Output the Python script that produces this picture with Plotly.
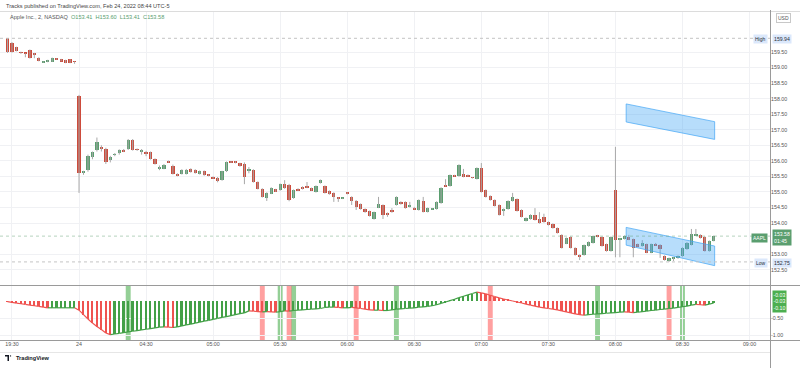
import plotly.graph_objects as go

# ---------------- data ----------------
OPEN = [159.94,159.80,159.65,159.50,159.45,159.55,159.42,159.31,159.17,159.18,159.19,159.29,159.27,159.24,159.26,159.19,
        158.09,155.61,155.71,156.13,156.35,156.45,156.38,156.03,156.19,156.24,156.35,156.38,156.67,156.38,156.27,156.28,
        156.28,156.06,155.75,155.75,155.99,155.85,155.58,155.58,155.58,155.74,155.71,155.58,155.67,155.55,155.48,155.46,
        155.38,155.66,155.97,155.97,155.92,155.90,155.69,155.71,155.32,155.10,154.81,154.95,155.08,155.06,155.25,155.22,
        154.81,155.10,155.16,155.19,155.12,155.00,155.29,155.19,155.03,154.97,154.81,154.79,154.97,154.84,154.72,154.61,
        154.45,154.38,154.13,154.50,154.58,154.32,154.42,154.58,154.68,154.68,154.52,154.50,154.42,154.71,154.36,154.45,
        154.45,154.64,155.22,155.19,155.53,155.51,155.58,155.54,155.46,155.42,155.77,155.06,154.87,154.74,154.58,154.39,
        154.45,154.71,154.77,154.42,154.07,154.13,154.26,154.13,154.20,154.03,153.97,153.84,153.62,153.34,153.55,153.20,
        152.97,152.97,153.26,153.36,153.58,153.55,153.32,153.10,155.06,153.47,153.49,153.56,153.48,153.32,153.26,153.32,
        153.05,153.34,153.30,152.94,152.81,152.86,152.87,152.94,153.16,153.30,153.60,153.62,153.55,153.10,153.41]
HIGH = [159.94,159.82,159.67,159.51,159.46,159.58,159.47,159.33,159.20,159.25,159.32,159.30,159.28,159.25,159.27,159.20,
        158.12,155.68,156.20,156.30,156.75,156.50,156.42,156.16,156.25,156.37,156.38,156.70,156.70,156.40,156.38,156.32,
        156.30,156.08,155.85,155.90,156.01,155.88,155.60,155.73,155.74,155.76,155.73,155.69,155.69,155.57,155.50,155.48,
        155.68,155.98,155.99,155.99,155.94,155.95,155.80,155.73,155.34,155.12,154.99,155.15,155.10,155.27,155.38,155.26,
        155.08,155.12,155.18,155.32,155.14,155.21,155.40,155.21,155.05,154.99,154.83,154.82,154.99,154.86,154.74,154.63,
        154.47,154.40,154.37,154.84,154.60,154.34,154.48,154.86,154.70,154.70,154.68,154.52,154.76,154.84,154.50,154.48,
        154.70,155.15,155.41,155.56,155.55,155.89,155.74,155.56,155.48,155.79,155.93,155.08,154.89,154.76,154.60,154.47,
        154.73,154.97,154.79,154.44,154.18,154.28,154.48,154.35,154.30,154.05,153.99,153.86,153.64,153.54,153.57,153.22,
        152.99,153.31,153.41,153.60,153.62,153.57,153.34,153.57,156.45,153.52,153.60,153.62,153.50,153.34,153.45,153.34,
        153.34,153.36,153.32,152.96,152.89,152.90,152.96,153.22,153.39,153.81,153.81,153.64,153.57,153.44,153.60]
LOW = [159.47,159.48,159.52,159.44,159.33,159.29,159.30,159.20,159.15,159.17,159.18,159.25,159.20,159.14,159.14,159.12,
       154.97,155.55,155.65,156.05,156.30,156.30,155.90,155.95,156.15,156.20,156.28,156.35,156.33,156.32,156.20,156.15,
       156.04,155.88,155.70,155.73,155.94,155.56,155.50,155.56,155.56,155.62,155.59,155.56,155.52,155.50,155.42,155.31,
       155.36,155.64,155.93,155.92,155.81,155.25,155.60,155.30,155.08,154.82,154.71,154.93,155.00,155.04,155.10,154.70,
       154.78,155.03,155.08,155.12,155.04,154.98,155.27,154.95,154.91,154.68,154.68,154.77,154.92,154.58,154.42,154.43,
       154.33,154.21,154.11,154.48,154.13,154.20,154.33,154.56,154.59,154.46,154.50,154.43,154.40,154.34,154.34,154.43,
       154.43,154.62,155.17,155.17,155.49,155.49,155.47,155.49,155.43,155.40,154.98,154.82,154.72,154.53,154.24,154.23,
       154.43,154.69,154.37,154.18,154.05,154.11,154.08,153.98,154.01,153.92,153.82,153.66,153.18,153.32,153.18,152.95,
       152.81,152.95,153.24,153.34,153.54,153.24,153.08,153.08,152.90,152.90,153.47,153.45,152.90,153.24,153.24,153.03,
       153.03,153.27,152.88,152.79,152.75,152.78,152.85,152.92,153.14,153.28,153.58,153.50,153.08,153.08,153.41]
CLOSE = [159.50,159.50,159.53,159.47,159.44,159.30,159.41,159.21,159.19,159.24,159.31,159.26,159.21,159.15,159.15,159.18,
         155.61,155.66,156.16,156.28,156.61,156.41,155.96,156.13,156.22,156.35,156.30,156.67,156.35,156.35,156.35,156.22,
         156.06,155.90,155.76,155.87,155.96,155.58,155.54,155.71,155.71,155.64,155.61,155.67,155.54,155.52,155.44,155.34,
         155.66,155.96,155.95,155.94,155.83,155.48,155.72,155.32,155.10,154.84,154.97,155.13,155.02,155.25,155.12,154.74,
         155.06,155.05,155.10,155.14,155.06,155.19,155.38,154.97,154.93,154.84,154.78,154.80,154.94,154.71,154.52,154.45,
         154.35,154.23,154.35,154.62,154.26,154.26,154.35,154.84,154.61,154.48,154.55,154.45,154.74,154.36,154.48,154.46,
         154.68,155.13,155.19,155.54,155.51,155.87,155.49,155.51,155.45,155.77,155.00,154.84,154.74,154.55,154.26,154.45,
         154.71,154.84,154.39,154.20,154.16,154.26,154.10,154.00,154.03,153.94,153.84,153.68,153.20,153.52,153.20,152.97,
         152.94,153.29,153.39,153.58,153.56,153.26,153.10,153.55,153.45,153.50,153.58,153.47,153.20,153.26,153.36,153.05,
         153.32,153.29,153.17,152.81,152.87,152.88,152.94,153.20,153.37,153.65,153.63,153.52,153.10,153.42,153.58]

# oscillator (lower pane)
OSC = [-0.02,-0.04,-0.06,-0.08,-0.10,-0.12,-0.14,-0.16,-0.18,-0.20,-0.20,-0.20,-0.20,-0.20,-0.20,-0.20,
       -0.27,-0.40,-0.53,-0.65,-0.75,-0.84,-0.94,-0.99,-0.97,-0.95,-0.93,-0.91,-0.89,-0.87,-0.85,-0.83,
       -0.81,-0.79,-0.77,-0.76,-0.77,-0.78,-0.76,-0.73,-0.70,-0.68,-0.65,-0.62,-0.59,-0.57,-0.54,-0.51,
       -0.48,-0.46,-0.43,-0.40,-0.37,-0.35,-0.29,-0.30,-0.31,-0.32,-0.31,-0.32,-0.33,-0.31,-0.29,-0.30,
       -0.28,-0.27,-0.26,-0.25,-0.24,-0.23,-0.22,-0.19,-0.18,-0.18,-0.19,-0.20,-0.20,-0.19,-0.20,-0.22,
       -0.24,-0.26,-0.27,-0.27,-0.28,-0.28,-0.26,-0.24,-0.23,-0.22,-0.21,-0.20,-0.18,-0.17,-0.16,-0.14,
       -0.11,-0.07,-0.03,0.01,0.05,0.10,0.14,0.18,0.22,0.26,0.24,0.21,0.17,0.13,0.09,0.06,
       0.03,0.00,-0.03,-0.06,-0.09,-0.12,-0.15,-0.18,-0.20,-0.22,-0.24,-0.26,-0.29,-0.32,-0.35,-0.38,
       -0.40,-0.42,-0.40,-0.39,-0.38,-0.37,-0.36,-0.35,-0.34,-0.33,-0.32,-0.33,-0.34,-0.33,-0.31,-0.30,
       -0.28,-0.27,-0.25,-0.24,-0.22,-0.21,-0.19,-0.17,-0.15,-0.12,-0.10,-0.11,-0.12,-0.09,-0.06]

# background signal bars in lower pane
SIGNAL_UP = [27, 61, 64, 87, 132, 151]
SIGNAL_DOWN = [57, 63, 78, 108, 148]

# drawn parallel channels (bar index, price)
CHAN_X = [138.4, 158.2]
CHAN1_TOP = [157.83, 157.26]
CHAN1_BOT = [157.25, 156.69]
CHAN2_TOP = [153.86, 153.26]
CHAN2_BOT = [153.29, 152.63]

TIME_TICK_IDX = [1, 16, 31, 46, 61, 76, 91, 106, 121, 136, 151, 166]
TIME_TICK_TEXT = ["19:30", "24", "04:30", "05:00", "05:30", "06:00", "06:30", "07:00", "07:30", "08:00", "08:30", "09:00"]
PRICE_TICKS = [152.5, 153.0, 154.0, 154.5, 155.0, 155.5, 156.0, 156.5, 157.0, 157.5, 158.0, 158.5, 159.0, 159.5]
OSC_TICKS = [-0.5, -1.0]
HIGH_VAL = 159.94
LOW_VAL = 152.75
OSC_LAST = ["-0.03", "-0.03", "-0.10"]

# ---------------- layout helpers ----------------
W, H = 800, 368
ML, MR, MT, MB = 0, 30, 12, 28
PW, PH = W - ML - MR, H - MT - MB

def pxx(x):
    return (x - ML) / PW

def pyy(y):
    return (H - MB - y) / PH

FONT = "Liberation Sans, Arial, sans-serif"
UP = "#5a9e6f"
DN = "#cd4b3b"
WICK = "#a8a8a8"
XR = [-1.68, 170.58]

n = len(OPEN)
idx = list(range(n))

fig = go.Figure()

# wicks
wx, wy = [], []
for i in idx:
    wx += [i, i, None]
    wy += [LOW[i], HIGH[i], None]
fig.add_trace(go.Scatter(x=wx, y=wy, mode="lines", line=dict(color=WICK, width=1),
                         hoverinfo="skip", showlegend=False))

# bodies
base = [min(o, c) for o, c in zip(OPEN, CLOSE)]
hgt = [max(abs(c - o), 0.03) for o, c in zip(OPEN, CLOSE)]
cols = [UP if c >= o else DN for o, c in zip(OPEN, CLOSE)]
fig.add_trace(go.Bar(x=idx, y=hgt, base=base, width=0.74, marker=dict(color=cols, line=dict(width=0)),
                     hoverinfo="skip", showlegend=False))

# channels
for top, bot in ((CHAN1_TOP, CHAN1_BOT), (CHAN2_TOP, CHAN2_BOT)):
    fig.add_trace(go.Scatter(x=[CHAN_X[0], CHAN_X[1], CHAN_X[1], CHAN_X[0], CHAN_X[0]],
                             y=[top[0], top[1], bot[1], bot[0], top[0]],
                             mode="lines", fill="toself", fillcolor="rgba(66,165,245,0.38)",
                             line=dict(color="rgba(66,165,245,0.7)", width=1),
                             hoverinfo="skip", showlegend=False))

# oscillator histogram
ocol = []
for i in idx:
    if i == 0 or OSC[i] < OSC[i - 1]:
        ocol.append("#ef5350")
    else:
        ocol.append("#43a047")
fig.add_trace(go.Bar(x=idx, y=OSC, base=0, width=0.38, marker=dict(color=ocol, line=dict(width=0)),
                     xaxis="x2", yaxis="y2", hoverinfo="skip", showlegend=False))
# oscillator line, coloured by direction
for colr in ("#43a047", "#ef5350"):
    lx, ly = [], []
    for i in idx[1:]:
        if ocol[i] == colr:
            lx += [i - 1, i, None]
            ly += [OSC[i - 1], OSC[i], None]
    fig.add_trace(go.Scatter(x=lx, y=ly, mode="lines", line=dict(color=colr, width=1.2),
                             xaxis="x2", yaxis="y2", hoverinfo="skip", showlegend=False))

shapes = []
for i in SIGNAL_UP:
    shapes.append(dict(type="rect", xref="x2", yref="y2 domain", x0=i - 0.55, x1=i + 0.55, y0=0, y1=1,
                       fillcolor="rgba(76,175,80,0.6)", line=dict(width=0), layer="below"))
for i in SIGNAL_DOWN:
    shapes.append(dict(type="rect", xref="x2", yref="y2 domain", x0=i - 0.55, x1=i + 0.55, y0=0, y1=1,
                       fillcolor="rgba(255,82,82,0.55)", line=dict(width=0), layer="below"))

# dotted high / low / last lines
for val, c in ((HIGH_VAL, "#c4c4c4"), (LOW_VAL, "#c4c4c4"), (CLOSE[-1], "rgba(90,158,111,0.45)")):
    shapes.append(dict(type="line", xref="x", yref="y", x0=XR[0], x1=XR[1], y0=val, y1=val,
                       line=dict(color=c, width=1, dash="dot")))

# frame lines
LC = "#9a9a9a"
shapes += [
    dict(type="line", xref="paper", yref="paper", x0=pxx(0), x1=pxx(800), y0=pyy(11.5), y1=pyy(11.5),
         line=dict(color="#dcdcdc", width=1)),
    dict(type="line", xref="paper", yref="paper", x0=pxx(0), x1=pxx(800), y0=pyy(285.5), y1=pyy(285.5),
         line=dict(color=LC, width=1)),
    dict(type="line", xref="paper", yref="paper", x0=pxx(0), x1=pxx(800), y0=pyy(340.5), y1=pyy(340.5),
         line=dict(color=LC, width=1)),
    dict(type="line", xref="paper", yref="paper", x0=pxx(0), x1=pxx(770), y0=pyy(352.5), y1=pyy(352.5),
         line=dict(color="#e6e6e6", width=1)),
    dict(type="line", xref="paper", yref="paper", x0=pxx(770.5), x1=pxx(770.5), y0=pyy(10), y1=pyy(368),
         line=dict(color=LC, width=1)),
]

ann = []
def add_text(x, y, text, size=5.5, color="#333", xanchor="left", bg=None, border=None, pad=1, align="left"):
    d = dict(xref="paper", yref="paper", x=pxx(x), y=pyy(y), text=text, showarrow=False,
             xanchor=xanchor, yanchor="middle", align=align,
             font=dict(family=FONT, size=size, color=color), borderpad=pad)
    if bg:
        d["bgcolor"] = bg
    if border:
        d["bordercolor"] = border
        d["borderwidth"] = 1
    ann.append(d)

add_text(4, 5.5, "Tracks published on TradingView.com, Feb 24, 2022 08:44 UTC-5", size=5.6, color="#444")
legend = ('<span style="color:#555">Apple Inc., 2, NASDAQ</span>  '
          f'<span style="color:{UP}">O{OPEN[-1]:.2f}  H{HIGH[-1]:.2f}  L{LOW[-1]:.2f}  C{CLOSE[-1]:.2f}</span>')
add_text(8, 17, legend, size=5.6)
add_text(784, 18, "USD", size=5, color="#555", xanchor="center", border="#c8c8c8", bg="#ffffff")
add_text(768, 39, "High", size=5, color="#2a2e39", xanchor="right", bg="#dbe8fb")
add_text(772, 39, f"{HIGH_VAL:.2f}", size=5.2, color="#2a2e39", bg="#dbe8fb", pad=1)
add_text(768, 238, "AAPL", size=5, color="#ffffff", xanchor="right", bg=UP)
add_text(772, 238, f"{CLOSE[-1]:.2f}<br>01:45", size=5.2, color="#ffffff", bg=UP, pad=1)
add_text(768, 263, "Low", size=5, color="#2a2e39", xanchor="right", bg="#dbe8fb")
add_text(772, 263, f"{LOW_VAL:.2f}", size=5.2, color="#2a2e39", bg="#dbe8fb", pad=1)
add_text(772, 301, "<br>".join(OSC_LAST), size=5.2, color="#ffffff", bg="#4caf50", pad=0.5)
add_text(14, 358, "<b>TradingView</b>", size=5.6, color="#131722")
shapes.append(dict(type="path", xref="paper", yref="paper",
                   path=f"M {pxx(5)},{pyy(355)} L {pxx(9)},{pyy(355)} L {pxx(9)},{pyy(361)} L {pxx(7.5)},{pyy(361)} L {pxx(7.5)},{pyy(356.5)} L {pxx(5)},{pyy(356.5)} Z",
                   fillcolor="#131722", line=dict(width=0)))
shapes.append(dict(type="circle", xref="paper", yref="paper", x0=pxx(9.8), x1=pxx(11.2), y0=pyy(356.6), y1=pyy(355.2),
                   fillcolor="#131722", line=dict(width=0)))

GRID = "#f0f1f4"
fig.update_layout(
    width=W, height=H, margin=dict(l=ML, r=MR, t=MT, b=MB),
    paper_bgcolor="white", plot_bgcolor="white", showlegend=False, hovermode=False,
    barmode="overlay", bargap=0,
    font=dict(family=FONT, size=5.5, color="#555"),
    xaxis=dict(domain=[0, 1], range=XR, tickvals=TIME_TICK_IDX, showticklabels=False,
               showgrid=True, gridcolor=GRID, zeroline=False, showline=False, fixedrange=True),
    yaxis=dict(domain=[pyy(285), 1], range=[152.008, 160.786], side="right", tickvals=PRICE_TICKS,
               ticktext=[f"{v:.2f}" for v in PRICE_TICKS], showgrid=True, gridcolor=GRID,
               zeroline=False, showline=False, ticks="", tickfont=dict(size=5.3, color="#555")),
    xaxis2=dict(domain=[0, 1], range=XR, anchor="y2", tickvals=TIME_TICK_IDX, ticktext=TIME_TICK_TEXT,
                showgrid=True, gridcolor=GRID, zeroline=False, showline=False, ticks="",
                tickfont=dict(size=5.3, color="#555")),
    yaxis2=dict(domain=[0, pyy(286)], range=[-1.147, 0.441], side="right", anchor="x2",
                tickvals=OSC_TICKS, ticktext=[f"{v:.2f}" for v in OSC_TICKS], showgrid=True,
                gridcolor=GRID, zeroline=False, showline=False, ticks="",
                tickfont=dict(size=5.3, color="#555")),
    shapes=shapes, annotations=ann,
)

fig.write_html("out.html", config={"displayModeBar": False},
               post_script="document.body.style.margin='0';document.body.style.padding='0';")
